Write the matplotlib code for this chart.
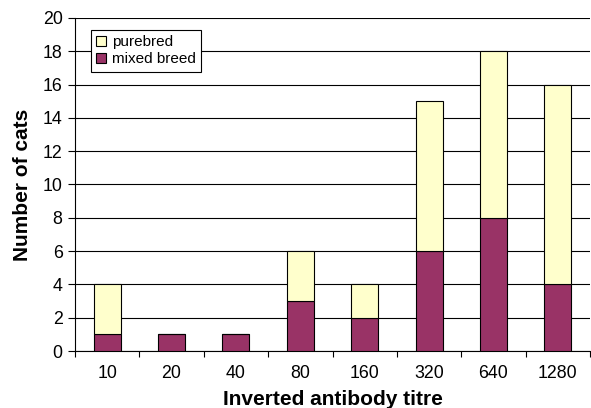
import matplotlib
matplotlib.use("Agg")
import matplotlib.pyplot as plt
import numpy as np
from matplotlib.lines import Line2D

plt.rcParams['font.family'] = ['Liberation Sans', 'DejaVu Sans']

categories = ['10', '20', '40', '80', '160', '320', '640', '1280']
mixed_breed = [1, 1, 1, 3, 2, 6, 8, 4]
purebred = [3, 0, 0, 3, 2, 9, 10, 12]

fig = plt.figure(figsize=(5.91, 4.08), dpi=100)
ax = fig.add_axes([75/591, 1-351/408, (590-75)/591, (351-18)/408])

x = np.arange(len(categories))
w = 0.42
ax.bar(x, mixed_breed, w, color='#993366', edgecolor='black', linewidth=0.8, zorder=3)
ax.bar(x, purebred, w, bottom=mixed_breed, color='#FFFFCC', edgecolor='black', linewidth=0.8, zorder=3)

ax.set_xlim(-0.5, len(categories) - 0.5)
ax.set_ylim(0, 20)
ax.set_yticks(range(0, 21, 2))
ax.yaxis.grid(True, color='black', linewidth=0.8)
ax.set_axisbelow(True)

ax.set_xticks(x)
ax.set_xticklabels(categories, fontsize=12.8)
ax.tick_params(axis='x', length=0, pad=10)
ax.set_xticks(np.arange(-0.5, len(categories)), minor=True)
ax.tick_params(axis='x', which='minor', length=4, direction='out', width=0.8)
ax.tick_params(axis='y', labelsize=12.8, length=5, width=0.8, pad=4)

for s in ['top', 'right']:
    ax.spines[s].set_visible(False)
ax.spines['left'].set_linewidth(0.8)
ax.spines['bottom'].set_linewidth(0.8)

ax.set_xlabel('Inverted antibody titre', fontsize=15, fontweight='bold', labelpad=6)
ax.set_ylabel('Number of cats', fontsize=15, fontweight='bold', labelpad=8)

handles = [
    Line2D([], [], marker='s', linestyle='none', markersize=7, markerfacecolor='#FFFFCC', markeredgecolor='black', markeredgewidth=0.8),
    Line2D([], [], marker='s', linestyle='none', markersize=7, markerfacecolor='#993366', markeredgecolor='black', markeredgewidth=0.8),
]
leg = ax.legend(handles, ['purebred', 'mixed breed'], loc='upper left',
                bbox_to_anchor=((91-75)/515, (351-30)/333),
                fontsize=11, frameon=True, fancybox=False, edgecolor='black', framealpha=1,
                handlelength=0.6, handletextpad=0.4, borderpad=0.35, labelspacing=0.2, borderaxespad=0)
leg.get_frame().set_linewidth(0.8)

fig.savefig('out.png', dpi=100)
